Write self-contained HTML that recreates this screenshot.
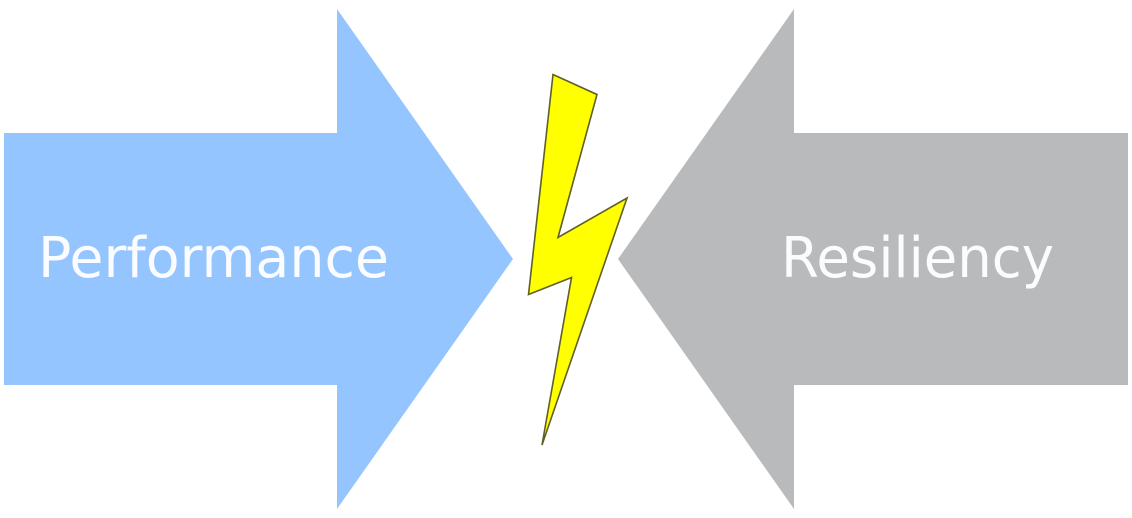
<!DOCTYPE html>
<html>
<head>
<meta charset="utf-8">
<style>
html,body{margin:0;padding:0;background:#fff;width:1132px;height:518px;overflow:hidden}
svg{display:block}
text{font-family:"DejaVu Sans","Liberation Sans",sans-serif;fill:#fff;fill-opacity:.95}
</style>
</head>
<body>
<svg width="1132" height="518" viewBox="0 0 1132 518" xmlns="http://www.w3.org/2000/svg">
<rect width="1132" height="518" fill="#fff"/>
<polygon points="4,133 337,133 337,9 513,259 337,509 337,385 4,385" fill="#94c5ff"/>
<polygon points="1128,133 794,133 794,9 618,259 794,509 794,385 1128,385" fill="#b9babc"/>
<polygon points="553,74.5 597,94.5 558,237.5 627,198 542,445 571.5,277.5 528.5,294.5" fill="#ffff00" stroke="#5f5f2a" stroke-width="1.6" stroke-linejoin="miter"/>
<text x="38" y="277" font-size="56" textLength="351" lengthAdjust="spacingAndGlyphs">Performance</text>
<text x="781" y="277" font-size="56" textLength="273" lengthAdjust="spacingAndGlyphs">Resiliency</text>
</svg>
</body>
</html>
